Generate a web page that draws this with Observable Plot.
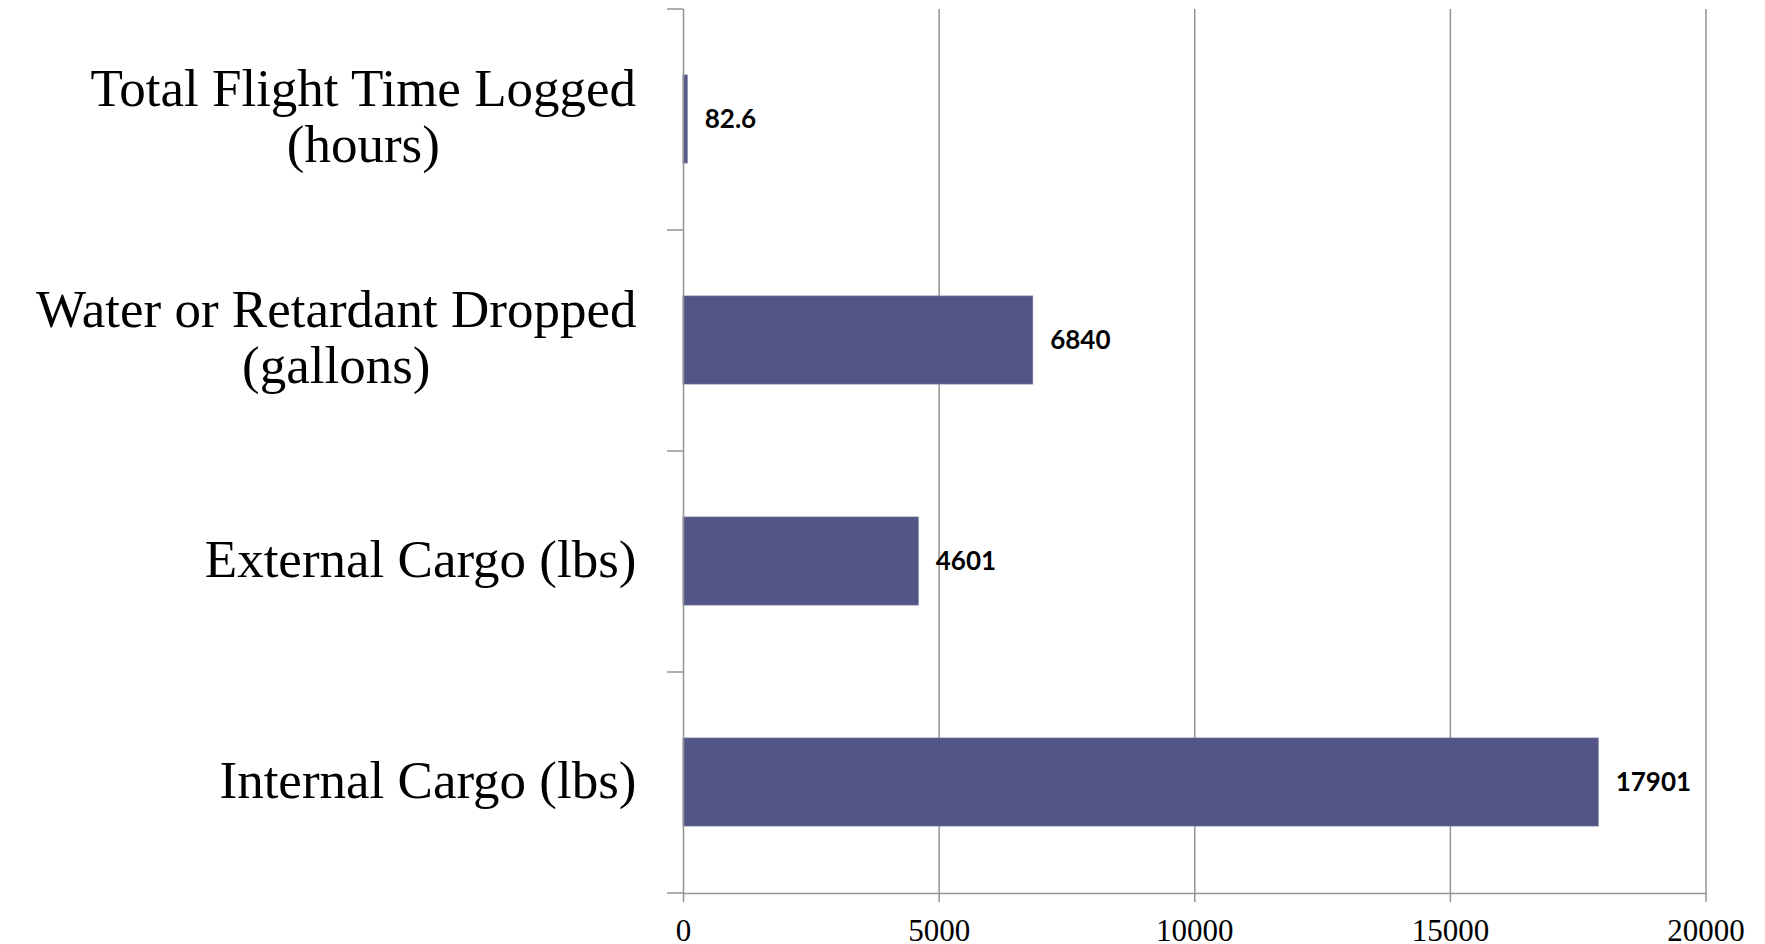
<!DOCTYPE html>
<html>
<head>
<meta charset="utf-8">
<script src="https://cdn.jsdelivr.net/npm/d3@7"></script>
<script src="https://cdn.jsdelivr.net/npm/@observablehq/plot@0.6"></script>
<style>
  html, body { margin: 0; padding: 0; background: #ffffff; }
  #chart svg { display: block; }
</style>
</head>
<body>
<div id="chart"></div>
<script>
// ---- data ----
const categories = [
  "Total Flight Time Logged\n(hours)",
  "Water or Retardant Dropped\n(gallons)",
  "External Cargo (lbs)",
  "Internal Cargo (lbs)"
];
const values = [82.6, 6840, 4601, 17901];
const valueLabels = ["82.6", "6840", "4601", "17901"];
const xTicks = [0, 5000, 10000, 15000, 20000];

// ---- layout / style ----
const W = 1765, H = 944;
const mTop = 9, mBottom = 51, mLeft = 683, mRight = 59.5;
const step = (H - mTop - mBottom) / categories.length;
const gray = "#949494";
const barColor = "#545587";
const serif = "'Liberation Serif', 'Times New Roman', serif";
const labelSize = 53;
const labelGap = 47;

const data = categories.map((c, i) => ({category: c, value: values[i], label: valueLabels[i]}));

// measure widest line of each category label
const ctx = document.createElement("canvas").getContext("2d");
ctx.font = `${labelSize}px ${serif}`;
const maxLineWidth = c => d3.max(c.split("\n"), s => ctx.measureText(s).width);

const labelMarks = categories.map(c => {
  const lines = c.split("\n").length;
  return Plot.text([c], {
    y: d => d,
    text: d => d,
    frameAnchor: "left",
    textAnchor: "middle",
    dx: -(labelGap + maxLineWidth(c) / 2),
    dy: lines > 1 ? -3 : -2,
    lineHeight: 56 / labelSize,
    fontSize: labelSize,
    fontFamily: serif,
    fill: "#000"
  });
});

const chart = Plot.plot({
  width: W,
  height: H,
  marginTop: mTop,
  marginBottom: mBottom,
  marginLeft: mLeft,
  marginRight: mRight,
  style: {background: "#ffffff", overflow: "visible"},
  x: {domain: [xTicks[0], xTicks[xTicks.length - 1]], label: null},
  y: {domain: categories, paddingInner: 0.6, paddingOuter: 0.3, label: null},
  marks: [
    Plot.gridX(xTicks.slice(1), {stroke: gray, strokeOpacity: 1, strokeWidth: 1.5}),
    Plot.barX(data, {x: "value", y: "category", fill: barColor, stroke: "#6a6b98", strokeWidth: 0.8}),
    Plot.ruleX([xTicks[0]], {stroke: gray, strokeWidth: 1.5}),
    Plot.frame({anchor: "bottom", stroke: gray, strokeWidth: 1.5}),
    Plot.axisX({
      ticks: xTicks,
      label: null,
      tickSize: 9,
      tickPadding: 16,
      stroke: gray,
      strokeWidth: 1.5,
      fill: "#000",
      fontSize: 31,
      fontFamily: serif,
      tickFormat: d => String(d)
    }),
    Plot.axisY({
      ticks: categories,
      label: null,
      tickSize: 16,
      dy: -step / 2,
      stroke: gray,
      strokeWidth: 1.5,
      tickFormat: () => ""
    }),
    Plot.axisY({
      ticks: categories.slice(-1),
      label: null,
      tickSize: 16,
      dy: step / 2,
      stroke: gray,
      strokeWidth: 1.5,
      tickFormat: () => ""
    }),
    Plot.text(data, {
      x: "value",
      y: "category",
      text: "label",
      textAnchor: "start",
      dx: 17,
      fontSize: 26,
      fontWeight: "bold",
      fontFamily: "Lato, 'Open Sans', sans-serif",
      fill: "#000"
    }),
    ...labelMarks
  ]
});

document.getElementById("chart").appendChild(chart);
</script>
</body>
</html>
